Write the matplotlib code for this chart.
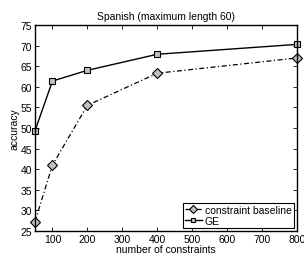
import matplotlib
matplotlib.use("Agg")
import matplotlib.pyplot as plt

# data
n_constraints = [50, 100, 200, 400, 800]
baseline_acc = [27.3, 41.0, 55.5, 63.3, 67.0]
ge_acc = [49.3, 61.4, 64.0, 67.9, 70.3]

plt.rcParams['font.family'] = ['Liberation Sans', 'DejaVu Sans']
plt.rcParams['font.size'] = 7.5

fig = plt.figure(figsize=(3.04, 2.55), dpi=100)
ax = fig.add_axes([0.115, 0.090, 0.862, 0.808])

ax.plot(n_constraints, baseline_acc, color='black', linestyle=(0, (4, 2, 1, 2)), linewidth=0.9,
        marker='D', markersize=5, markerfacecolor='#c0c0c0', markeredgecolor='black',
        markeredgewidth=0.8, label='constraint baseline', clip_on=False)
ax.plot(n_constraints, ge_acc, color='black', linestyle='-', linewidth=1.0,
        marker='s', markersize=4.5, markerfacecolor='#c0c0c0', markeredgecolor='black',
        markeredgewidth=0.8, label='GE', clip_on=False)

ax.set_xlim(50, 800)
ax.set_ylim(25, 75)
ax.set_xticks([100, 200, 300, 400, 500, 600, 700, 800])
ax.set_yticks(range(25, 76, 5))
ax.tick_params(direction='in', top=True, right=True, length=3, width=0.6, pad=2)
for sp in ax.spines.values():
    sp.set_linewidth(1.0)

ax.set_title('Spanish (maximum length 60)', fontsize=7.5, pad=4)
ax.set_xlabel('number of constraints', fontsize=7.5, labelpad=0)
ax.set_ylabel('accuracy', fontsize=7.5, labelpad=1)

leg = ax.legend(loc='lower right', fontsize=7.5, handlelength=1.6, handletextpad=0.3,
                borderpad=0.2, labelspacing=0.1, borderaxespad=0.3, markerscale=0.75,
                fancybox=False, framealpha=1)
leg.get_frame().set_edgecolor('black')
leg.get_frame().set_linewidth(0.8)

fig.savefig('out.png', dpi=100)
